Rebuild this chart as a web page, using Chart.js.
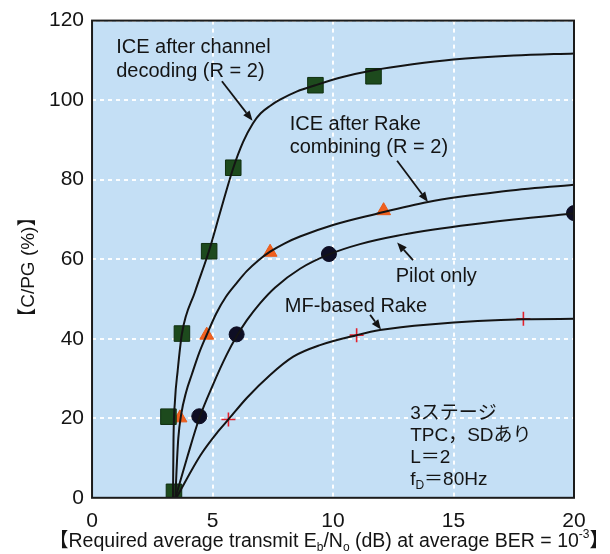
<!DOCTYPE html>
<html>
<head>
<meta charset="utf-8">
<script src="https://cdn.jsdelivr.net/npm/chart.js@4/dist/chart.umd.min.js"></script>
<style>
  html, body { margin: 0; padding: 0; background: #fff; }
  #wrap { width: 610px; height: 554px; }
</style>
</head>
<body>
<div id="wrap"><canvas id="chart-canvas" width="610" height="554"></canvas></div>
<script>
// axis ticks
const xTickValues = [0, 5, 10, 15, 20];
const yTickValues = [0, 20, 40, 60, 80, 100, 120];

// curves, [Eb/No dB, C/PG %]
const iceDecodingCurve = [[3.36, 0], [3.38, 14.25], [3.44, 24.25], [3.55, 31.75], [3.73, 41.25], [4.27, 51.75], [4.85, 62], [5.35, 72.5], [5.85, 82.75], [6.27, 89.5], [6.68, 94.2], [7.0, 96.7], [7.4, 98.6], [7.8, 100.1], [8.51, 102.2], [9.27, 103.75], [10.4, 105.8], [11.68, 107.5], [13.3, 109], [15, 110.2], [17.5, 111.2], [20, 111.75]];
const iceRakeCurve = [[3.46, 0], [3.5, 6], [3.58, 15], [3.7, 21], [3.9, 26.5], [4.14, 31], [4.45, 36.5], [4.76, 41], [5.15, 46.3], [5.55, 50.5], [6, 54], [6.42, 57], [6.9, 59.7], [7.39, 61.9], [8, 64], [8.63, 65.7], [10, 68.6], [11.66, 71.2], [13.94, 74.4], [17, 77], [20, 78.75]];
const pilotCurve = [[3.46, 0], [3.95, 10.2], [4.45, 20], [5.03, 28.6], [5.59, 36], [6, 40.6], [6.42, 44.6], [6.97, 48.9], [7.6, 52.9], [8.63, 57.6], [9.83, 61.2], [11.12, 63.8], [12.66, 65.9], [15.3, 68.4], [17.5, 70], [20, 71.5]];
const mfRakeCurve = [[3.5, 0], [4.5, 10.7], [5.24, 16.75], [5.66, 19.7], [6.42, 25.1], [7.39, 30.9], [8.35, 35.5], [9.46, 38.4], [10.98, 40.9], [11.95, 42.2], [14, 43.6], [17.9, 44.9], [20, 45]];

// measured points
const iceDecodingMarks = [[3.17, 20.4], [3.4, 1.5], [3.73, 41.3], [4.86, 62], [5.86, 83], [9.27, 103.75], [11.68, 106]];
const iceRakeMarks = [[3.65, 20.1], [4.76, 40.9], [7.39, 61.75], [12.1, 72.2]];
const pilotMarks = [[4.45, 20.5], [6.0, 41.1], [9.83, 61.3], [20, 71.6]];
const mfRakeMarks = [[5.66, 19.7], [10.98, 40.9], [17.9, 45]];

// curve labels: [text, x, y] in data units (baseline-left)
const curveLabels = [
  ['ICE after channel', 1.0, 111.8],
  ['decoding (R = 2)', 1.0, 105.8],
  ['ICE after Rake', 8.2, 92.6],
  ['combining (R = 2)', 8.2, 86.6],
  ['Pilot only', 12.6, 54.3],
  ['MF-based Rake', 8.0, 46.8]
];
// arrows: [fromX, fromY, toX, toY]
const arrows = [
  [5.39, 104.75, 6.66, 94.8],
  [12.66, 84.75, 13.94, 74.4],
  [13.32, 59.75, 12.66, 64.2],
  [11.54, 46.0, 11.99, 42.3]
];
// condition box
const conditionLines = ['3ステージ', 'TPC，SDあり', 'L＝2'];
const conditionFd = ['f', 'D', '＝80Hz'];

const LATIN = '"Liberation Sans", "Noto Sans CJK JP", sans-serif';
const INK = '#141414';

const toXY = arr => arr.map(p => ({ x: p[0], y: p[1] }));

function curveSet(pts) {
  return {
    type: 'line',
    data: toXY(pts),
    borderColor: INK,
    borderWidth: 2,
    pointRadius: 0,
    fill: false,
    cubicInterpolationMode: 'monotone'
  };
}

function markSet(pts, style, radius, fillColor, lineColor, lw) {
  return {
    type: 'scatter',
    data: toXY(pts),
    showLine: false,
    pointStyle: style,
    pointRadius: radius,
    backgroundColor: fillColor,
    borderColor: lineColor,
    borderWidth: lw
  };
}

// light blue plot area and frame
const plotFrame = {
  id: 'plotFrame',
  beforeDraw(chart) {
    const a = chart.chartArea;
    const ctx = chart.ctx;
    ctx.save();
    ctx.fillStyle = '#c4dff5';
    ctx.fillRect(a.left, a.top, a.right - a.left, a.bottom - a.top);
    ctx.restore();
  },
  afterDatasetsDraw(chart) {
    const a = chart.chartArea;
    const ctx = chart.ctx;
    ctx.save();
    ctx.strokeStyle = '#1b1b1b';
    ctx.lineWidth = 2;
    ctx.strokeRect(a.left, a.top, a.right - a.left, a.bottom - a.top);
    ctx.restore();
  }
};

// draw runs of text with sub/superscripts, returns width
function drawRuns(ctx, runs, x, y, size, measureOnly) {
  let w = 0;
  runs.forEach(r => {
    const fs = r.sub || r.sup ? Math.round(size * 0.62) : size;
    ctx.font = fs + 'px ' + LATIN;
    const dy = r.sub ? size * 0.22 : (r.sup ? -size * 0.45 : 0);
    if (!measureOnly) ctx.fillText(r.t, x + w, y + dy);
    w += ctx.measureText(r.t).width;
  });
  return w;
}

const notes = {
  id: 'notes',
  afterDraw(chart) {
    const ctx = chart.ctx;
    const xs = chart.scales.x, ys = chart.scales.y;
    const a = chart.chartArea;
    ctx.save();
    ctx.fillStyle = INK;
    ctx.textBaseline = 'alphabetic';
    ctx.textAlign = 'left';

    ctx.font = '20px ' + LATIN;
    curveLabels.forEach(l => {
      ctx.fillText(l[0], xs.getPixelForValue(l[1]), ys.getPixelForValue(l[2]));
    });

    // arrows with filled heads
    ctx.strokeStyle = INK;
    ctx.lineWidth = 1.8;
    arrows.forEach(ar => {
      const x1 = xs.getPixelForValue(ar[0]), y1 = ys.getPixelForValue(ar[1]);
      const x2 = xs.getPixelForValue(ar[2]), y2 = ys.getPixelForValue(ar[3]);
      const ang = Math.atan2(y2 - y1, x2 - x1);
      const hl = 10, hw = 4;
      const bx = x2 - hl * Math.cos(ang), by = y2 - hl * Math.sin(ang);
      ctx.beginPath();
      ctx.moveTo(x1, y1);
      ctx.lineTo(bx, by);
      ctx.stroke();
      ctx.beginPath();
      ctx.moveTo(x2, y2);
      ctx.lineTo(bx + hw * Math.sin(ang), by - hw * Math.cos(ang));
      ctx.lineTo(bx - hw * Math.sin(ang), by + hw * Math.cos(ang));
      ctx.closePath();
      ctx.fill();
    });

    // conditions
    const cx = xs.getPixelForValue(13.2);
    let cy = ys.getPixelForValue(19.8);
    ctx.font = '19px ' + LATIN;
    conditionLines.forEach(t => {
      ctx.fillText(t, cx, cy);
      cy += 22;
    });
    drawRuns(ctx, [{ t: conditionFd[0] }, { t: conditionFd[1], sub: true }, { t: conditionFd[2] }], cx, cy, 19);

    // x axis title
    const xRuns = [
      { t: '【Required average transmit E' }, { t: 'b', sub: true }, { t: '/N' }, { t: 'o', sub: true },
      { t: ' (dB) at average BER = 10' }, { t: '-3', sup: true }, { t: '】' }
    ];
    const tw = drawRuns(ctx, xRuns, 0, 0, 19.5, true);
    drawRuns(ctx, xRuns, (a.left + a.right) / 2 - tw / 2 - 4, 547, 19.5);

    // y axis title
    ctx.translate(34, (a.top + a.bottom) / 2 + 8);
    ctx.rotate(-Math.PI / 2);
    ctx.textAlign = 'center';
    ctx.font = '19px ' + LATIN;
    ctx.fillText('【C/PG (%)】', 0, 0);
    ctx.restore();
  }
};

const ctx = document.getElementById('chart-canvas').getContext('2d');
new Chart(ctx, {
  data: {
    datasets: [
      curveSet(iceDecodingCurve),
      curveSet(iceRakeCurve),
      curveSet(pilotCurve),
      curveSet(mfRakeCurve),
      markSet(iceDecodingMarks, 'rect', 11, '#1d4a1d', '#0f2f10', 1),
      markSet(iceRakeMarks, 'triangle', 8, '#f0601e', '#e85a18', 1),
      markSet(pilotMarks, 'circle', 7.5, '#0e0e24', '#0e0e24', 1),
      markSet(mfRakeMarks, 'cross', 7, '#e3202c', '#e3202c', 1.6)
    ]
  },
  options: {
    responsive: false,
    animation: false,
    layout: { autoPadding: false, padding: { left: 41, right: 36, top: 14, bottom: 9 } },
    plugins: { legend: { display: false }, tooltip: { enabled: false } },
    scales: {
      x: {
        type: 'linear',
        min: 0,
        max: 20,
        afterBuildTicks: s => { s.ticks = xTickValues.map(v => ({ value: v })); },
        ticks: { color: INK, font: { family: LATIN, size: 21 }, padding: 11, maxRotation: 0 },
        grid: { color: 'rgba(255,255,255,0.95)', lineWidth: 2, drawTicks: false },
        border: { display: false, dash: [4, 4] }
      },
      y: {
        type: 'linear',
        min: 0,
        max: 120,
        afterBuildTicks: s => { s.ticks = yTickValues.map(v => ({ value: v })); },
        ticks: { color: INK, font: { family: LATIN, size: 21 }, padding: 8 },
        grid: { color: 'rgba(255,255,255,0.95)', lineWidth: 2, drawTicks: false },
        border: { display: false, dash: [4, 4] }
      }
    }
  },
  plugins: [plotFrame, notes]
});
</script>
</body>
</html>
